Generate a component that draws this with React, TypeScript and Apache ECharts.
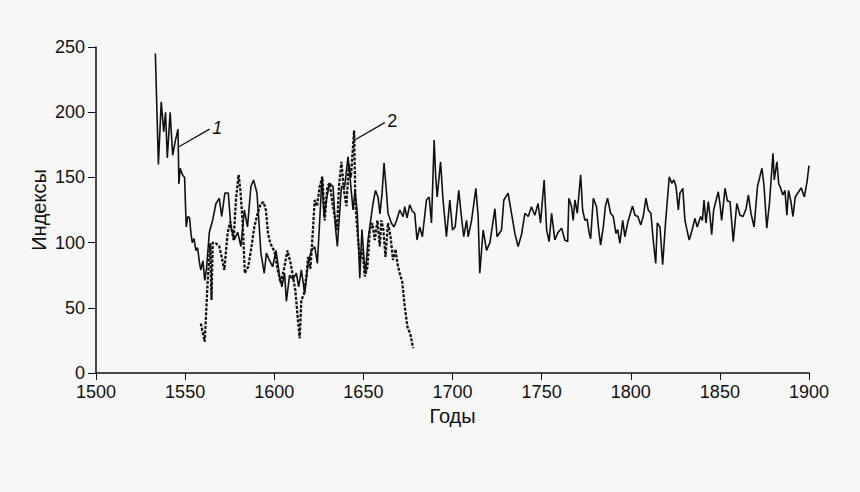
import React, { useEffect, useRef } from "react";
import * as echarts from "echarts";

const xTicks = { min: 1500, max: 1900, step: 50 };
const yTicks = { min: 0, max: 250, step: 50 };
const xName = "Годы";
const yName = "Индексы";

// Series 1 (solid line): [year, index]
const series1: [number, number][] = [
  [1533.3, 245], [1535, 160], [1536.6, 208], [1538, 185], [1539, 200], [1540, 165],
  [1541.6, 200], [1543, 167], [1544.5, 178], [1546, 187], [1546.5, 145], [1547.2, 157],
  [1548.5, 152], [1549.7, 150], [1550.6, 112], [1551.5, 120], [1552.5, 119], [1553.2, 108],
  [1554, 100], [1555, 103], [1556, 94], [1557, 96], [1558, 85], [1558.8, 79], [1560, 86],
  [1561, 71], [1562, 80], [1563.6, 108], [1565.4, 117], [1567.3, 130], [1569.2, 134],
  [1570.5, 120], [1572.3, 138], [1574.2, 138], [1575.7, 112], [1577.6, 102], [1579.5, 108],
  [1581.3, 97], [1583.2, 125], [1585, 112], [1586.9, 143], [1588.4, 148], [1590.3, 138],
  [1591.6, 112], [1592.5, 92], [1594.4, 76.5], [1595.6, 92], [1597.2, 86.7], [1599.1, 81.5],
  [1601, 94], [1603, 74], [1604.3, 66], [1605.8, 76.5], [1606.8, 55], [1608.6, 75],
  [1610.5, 72], [1612.4, 76.5], [1613.7, 66], [1615.2, 79], [1617.1, 61], [1619, 84],
  [1620.8, 94], [1622.7, 97], [1624.2, 84], [1625.5, 117], [1626.8, 150.5], [1627.9, 120],
  [1629.5, 135], [1631.1, 145.5], [1633, 143], [1634.3, 112], [1635.4, 97], [1637.7, 143],
  [1639.5, 143], [1641.4, 166], [1642.5, 150], [1644.2, 125], [1645.3, 140], [1646.6, 122.5],
  [1648, 72.6], [1649.2, 110], [1650.4, 86.7], [1651.2, 76.5], [1652.6, 102], [1654.1, 117],
  [1655.4, 130], [1656.8, 140], [1658.2, 135], [1659.3, 122], [1660.5, 138], [1661.6, 161],
  [1663, 138], [1663.8, 122.5], [1665.7, 115], [1667.2, 112], [1668.6, 117], [1670.4, 125],
  [1672.3, 120], [1673.2, 127.5], [1674.5, 119], [1676, 129], [1677.5, 124], [1678.8, 122.5],
  [1680.1, 102], [1681.6, 112], [1683.1, 104.5], [1685.4, 132.7], [1686.9, 135], [1688.2, 115],
  [1689.7, 178.7], [1690.6, 150], [1691.4, 135], [1693.3, 162], [1694.7, 132.7], [1696.6, 104.5],
  [1698.5, 132.7], [1700, 109.7], [1701.5, 112], [1703.5, 140], [1705, 120], [1706.3, 104.5],
  [1707.9, 117], [1708.8, 104.5], [1710.7, 117], [1713.1, 141.6], [1714.4, 120], [1715.3, 76.5],
  [1717.2, 109.7], [1719.1, 94], [1721, 100], [1723.8, 126], [1725, 104.5], [1727.5, 109.7],
  [1728.8, 132.7], [1731.2, 138], [1733.1, 122.5], [1735, 107], [1736.8, 97], [1738.7, 106],
  [1740.6, 122.5], [1742.5, 120], [1744.3, 127.5], [1746.2, 121], [1748, 130], [1749.4, 115],
  [1751.4, 148], [1752.8, 109.7], [1754.2, 100.7], [1755.6, 122.5], [1757.4, 102], [1759.3, 108],
  [1761.2, 111], [1763, 102], [1764.6, 100.7], [1765.3, 134], [1766.8, 127.5], [1767.7, 117],
  [1768.7, 132.7], [1770, 122.5], [1771.9, 152], [1773, 125], [1774.3, 117], [1775.5, 118],
  [1776.7, 107], [1777.5, 103], [1779, 134], [1780.8, 127.5], [1782, 110], [1783.1, 98],
  [1784.6, 112], [1785.8, 128], [1787, 134], [1788.7, 122.5], [1790.2, 120], [1791.7, 107],
  [1792.7, 110], [1793.9, 99.5], [1795.5, 117], [1796.7, 104.5], [1798.6, 117], [1801, 128],
  [1802.4, 121], [1804, 120], [1805.6, 113.5], [1807, 120], [1808.5, 134], [1809.8, 125],
  [1811.3, 122.5], [1812.6, 102], [1814, 84], [1814.9, 115], [1816.4, 112], [1817.9, 83],
  [1819.5, 115], [1821.6, 150.5], [1823, 145.5], [1824.2, 148], [1825.4, 143], [1826.7, 125],
  [1827.6, 138], [1829.2, 141.6], [1830.4, 117], [1831.5, 110], [1832.8, 102], [1834.5, 110],
  [1836, 118.6], [1837.3, 112], [1839.2, 120], [1840.2, 117], [1841.1, 132.7], [1842.2, 115],
  [1843.5, 131.4], [1844.5, 120], [1845.4, 106], [1846.5, 125], [1847.9, 132.7], [1849.1, 139],
  [1850.1, 129], [1851, 117], [1852.9, 141.6], [1854.2, 132], [1855.7, 131.4], [1857.5, 100.7],
  [1859.5, 130], [1861.3, 121], [1863, 120], [1864.7, 126], [1866, 136.5], [1867.5, 122],
  [1869.2, 112], [1871.1, 143], [1873.6, 157], [1874.8, 143], [1876.3, 111], [1877.8, 130],
  [1879.8, 168.5], [1880.5, 148], [1882, 162], [1883, 145], [1883.8, 143], [1885.3, 136.5],
  [1886.5, 140], [1887.6, 121], [1888.5, 140], [1889.8, 132], [1891, 120], [1892.3, 135],
  [1894.2, 139], [1895.6, 142], [1897.4, 135], [1898.9, 146.7], [1900, 159],
];

// Series 2 (dotted line): [year, index]
const series2: [number, number][] = [
  [1558.8, 38], [1561, 24], [1562.6, 69], [1564.1, 99.5], [1564.8, 56], [1565.5, 100],
  [1567.3, 99.5], [1569.2, 97], [1570.5, 89], [1572, 79], [1573.8, 107], [1575.3, 116],
  [1577.2, 102], [1578.5, 132.7], [1580, 152], [1581, 140], [1582.2, 117], [1583.5, 76.5],
  [1585.4, 81.5], [1586.9, 94], [1588.8, 112], [1590.7, 122.5], [1592.5, 130], [1594, 131],
  [1595.3, 125], [1596.5, 107], [1597.8, 99.5], [1600.2, 93], [1601.8, 80], [1603.6, 69],
  [1605.5, 80], [1607.4, 94], [1609.2, 84], [1611.8, 63.7], [1613.3, 40.6], [1614.3, 26.6],
  [1615.2, 56], [1616.5, 60], [1618, 74], [1619, 89], [1620.3, 80], [1621.7, 109.7],
  [1622.7, 132.7], [1624, 128], [1625.5, 143], [1627, 150.5], [1628.3, 117], [1629.8, 143],
  [1631.1, 145.5], [1632.4, 132.7], [1633.9, 120], [1635.2, 109.7], [1636.3, 143], [1637.7, 162],
  [1639.1, 140], [1640.5, 128], [1641.8, 160], [1643, 150], [1644.8, 186], [1645.5, 130],
  [1646.6, 109.7], [1648, 86.7], [1649.5, 95], [1650.8, 74], [1652.3, 81.5], [1653.6, 109.7],
  [1655, 115], [1656.4, 102], [1657.9, 117], [1659.2, 97], [1660.1, 117], [1661.2, 110],
  [1662.4, 89], [1663.8, 115], [1665.2, 105], [1666.6, 86.7], [1668, 95], [1669.1, 84],
  [1670.4, 76.5], [1671.8, 70], [1673.2, 51], [1674.7, 35.5], [1676.3, 30], [1677.9, 19],
];

// Annotation leader lines: [start, end] in data coordinates, with label
const leader1: [[number, number], [number, number]] = [[1546.5, 173.5], [1563.7, 187]];
const leader2: [[number, number], [number, number]] = [[1645.1, 178.7], [1662, 192]];
const leaderLabels = ["1", "2"];

const FONT = "'Liberation Sans', Arial, Helvetica, sans-serif";
const INK = "#111";

export default function App() {
  const ref = useRef<HTMLDivElement>(null);

  useEffect(() => {
    if (!ref.current) return;
    const chart = echarts.init(ref.current, null, { renderer: "svg" });

    const mkLeader = (seg: [[number, number], [number, number]], text: string, italic: boolean) => ({
      silent: true,
      symbol: ["none", "none"],
      animation: false,
      lineStyle: { color: INK, width: 1.3, type: "solid" },
      label: {
        show: true,
        position: "end",
        formatter: text,
        color: INK,
        fontSize: 18,
        fontStyle: italic ? "italic" : "normal",
        fontFamily: FONT,
        distance: 3,
      },
      data: [[{ coord: seg[0] }, { coord: seg[1] }]],
    });

    chart.setOption({
      animation: false,
      backgroundColor: "#f7f7f7",
      grid: { left: 96, right: 51, top: 47, bottom: 119 },
      xAxis: {
        type: "value",
        min: xTicks.min,
        max: xTicks.max,
        interval: xTicks.step,
        name: xName,
        nameLocation: "middle",
        nameGap: 33,
        nameMoveOverlap: false,
        nameTextStyle: { fontSize: 20, color: INK, fontFamily: FONT },
        axisLine: { show: true, lineStyle: { color: INK, width: 1.5 } },
        axisTick: { show: true, length: 7, lineStyle: { color: INK, width: 1 } },
        axisLabel: {
          color: INK,
          fontSize: 18,
          fontFamily: FONT,
          margin: 10,
          formatter: (v: number) => String(v),
        },
        splitLine: { show: false },
      },
      yAxis: {
        type: "value",
        min: yTicks.min,
        max: yTicks.max,
        interval: yTicks.step,
        name: yName,
        nameLocation: "middle",
        nameGap: 47,
        nameMoveOverlap: false,
        nameTextStyle: { fontSize: 20, color: INK, fontFamily: FONT },
        axisLine: { show: true, lineStyle: { color: INK, width: 1.5 } },
        axisTick: { show: true, length: 8, lineStyle: { color: INK, width: 1 } },
        axisLabel: {
          color: INK,
          fontSize: 18,
          fontFamily: FONT,
          margin: 11,
          formatter: (v: number) => String(v),
        },
        splitLine: { show: false },
      },
      series: [
        {
          name: "1",
          type: "line",
          data: series1,
          showSymbol: false,
          symbol: "none",
          lineStyle: { color: INK, width: 1.6 },
          z: 3,
          markLine: mkLeader(leader1, leaderLabels[0], true),
        },
        {
          name: "2",
          type: "line",
          data: series2,
          showSymbol: false,
          symbol: "none",
          lineStyle: { color: INK, width: 2.3, type: [3, 1.5] },
          z: 2,
          markLine: mkLeader(leader2, leaderLabels[1], false),
        },
      ],
    });

    return () => chart.dispose();
  }, []);

  return (
    <div
      ref={ref}
      style={{ position: "fixed", left: 0, top: 0, width: 860, height: 492 }}
    />
  );
}
